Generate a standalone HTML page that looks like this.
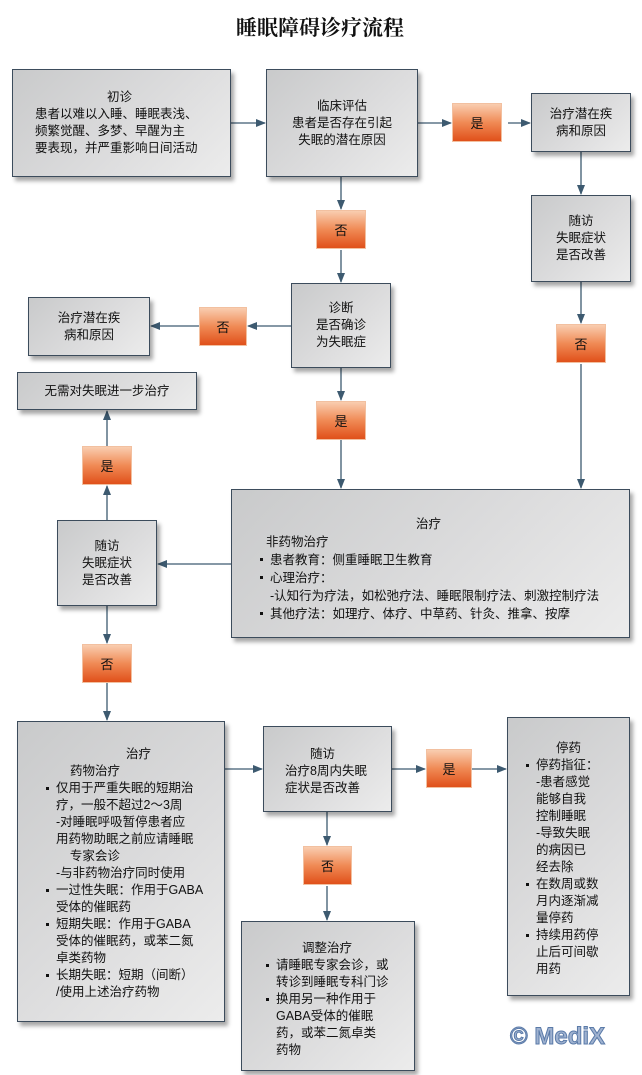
<!DOCTYPE html>
<html><head><meta charset="utf-8"><style>
body{margin:0;width:642px;height:1075px;background:#fff;position:relative;overflow:hidden;font-family:"Liberation Sans","Noto Sans CJK SC",sans-serif;font-size:12.5px;color:#111;}
.b{position:absolute;box-sizing:border-box;border:1px solid #3c4c5c;background:linear-gradient(135deg,#c9cacb 0%,#dcdcdd 55%,#ececec 100%);box-shadow:3px 4px 4px rgba(0,0,0,.35);line-height:17px;white-space:nowrap;}
.c{display:flex;align-items:center;justify-content:center;text-align:center;}
.o{position:absolute;width:50px;height:39px;background:linear-gradient(180deg,#f9cdb0 0%,#f08a55 50%,#e0501a 100%);border:1px solid #f2c0a0;box-sizing:border-box;display:flex;align-items:center;justify-content:center;font-size:13px;}
ul{margin:0;padding:0 0 0 14px;list-style:none;}
li{position:relative;}
li:before{content:"";position:absolute;left:-10px;top:7px;width:3px;height:3px;background:#111;}
svg{position:absolute;left:0;top:0;}
</style></head><body>
<div style="position:absolute;left:0;top:12px;width:640px;text-align:center;font-family:'Liberation Serif','Noto Serif CJK SC',serif;font-weight:bold;font-size:21px;">睡眠障碍诊疗流程</div>
<svg width="642" height="1075"><defs><marker id="a" markerWidth="10" markerHeight="8" refX="9" refY="4" orient="auto" markerUnits="userSpaceOnUse"><path d="M0,0 L10,4 L0,8 Z" fill="#3d5a70"/></marker></defs>
<g stroke="#3d5a70" stroke-width="1.3" fill="none" marker-end="url(#a)">
<line x1="231" y1="123" x2="265" y2="123"/><line x1="418" y1="123" x2="451" y2="123"/><line x1="508" y1="123" x2="530" y2="123"/>
<line x1="581" y1="152" x2="581" y2="194"/><line x1="581" y1="282" x2="581" y2="323"/><line x1="581" y1="364" x2="581" y2="488"/>
<line x1="341" y1="177" x2="341" y2="209"/><line x1="341" y1="250" x2="341" y2="282"/><line x1="341" y1="368" x2="341" y2="400"/><line x1="341" y1="440" x2="341" y2="488"/>
<line x1="291" y1="326" x2="248" y2="326"/><line x1="199" y1="326" x2="151" y2="326"/>
<line x1="231" y1="564" x2="158" y2="564"/>
<line x1="107" y1="520" x2="107" y2="486"/><line x1="107" y1="446" x2="107" y2="411"/>
<line x1="107" y1="606" x2="107" y2="643"/><line x1="107" y1="683" x2="107" y2="720"/>
<line x1="225" y1="769" x2="262" y2="769"/><line x1="392" y1="769" x2="425" y2="769"/><line x1="472" y1="769" x2="506" y2="769"/>
<line x1="327" y1="812" x2="327" y2="845"/><line x1="327" y1="886" x2="327" y2="920"/>
</g></svg>
<div class="b" style="left:12px;top:69px;width:219px;height:108px;padding:19px 0 0 22px;">
<div style="padding-left:72px">初诊</div>患者以难以入睡、睡眠表浅、<br>频繁觉醒、多梦、早醒为主<br>要表现，并严重影响日间活动</div>
<div class="b c" style="left:266px;top:69px;width:152px;height:108px;">临床评估<br>患者是否存在引起<br>失眠的潜在原因</div>
<div class="o" style="left:452px;top:103px;">是</div>
<div class="b c" style="left:531px;top:93px;width:100px;height:59px;">治疗潜在疾<br>病和原因</div>
<div class="b c" style="left:531px;top:195px;width:100px;height:87px;">随访<br>失眠症状<br>是否改善</div>
<div class="o" style="left:556px;top:324px;">否</div>
<div class="o" style="left:316px;top:210px;">否</div>
<div class="b c" style="left:291px;top:283px;width:100px;height:85px;">诊断<br>是否确诊<br>为失眠症</div>
<div class="o" style="left:199px;top:307px;width:48px;">否</div>
<div class="b c" style="left:28px;top:297px;width:122px;height:59px;">治疗潜在疾<br>病和原因</div>
<div class="b c" style="left:17px;top:372px;width:180px;height:38px;">无需对失眠进一步治疗</div>
<div class="o" style="left:82px;top:446px;">是</div>
<div class="o" style="left:316px;top:401px;">是</div>
<div class="b" style="left:231px;top:489px;width:399px;height:149px;padding:25px 0 0 24px;line-height:18px;">
<div style="padding-left:160px">治疗</div><div style="padding-left:10px">非药物治疗</div>
<ul><li>患者教育：侧重睡眠卫生教育</li><li>心理治疗：<br>-认知行为疗法，如松弛疗法、睡眠限制疗法、刺激控制疗法</li><li>其他疗法：如理疗、体疗、中草药、针灸、推拿、按摩</li></ul></div>
<div class="b c" style="left:57px;top:520px;width:100px;height:86px;">随访<br>失眠症状<br>是否改善</div>
<div class="o" style="left:82px;top:644px;">否</div>
<div class="b" style="left:17px;top:721px;width:208px;height:301px;padding:24px 4px 0 38px;">
<div style="padding-left:70px">治疗</div><div style="padding-left:14px">药物治疗</div>
<ul style="margin-left:-14px;padding-left:14px"><li>仅用于严重失眠的短期治<br>疗，一般不超过2～3周<br>-对睡眠呼吸暂停患者应<br>用药物助眠之前应请睡眠<br>&nbsp;&nbsp;&nbsp;&nbsp;专家会诊<br>-与非药物治疗同时使用</li><li>一过性失眠：作用于GABA<br>受体的催眠药</li><li>短期失眠：作用于GABA<br>受体的催眠药，或苯二氮<br>卓类药物</li><li>长期失眠：短期（间断）<br>/使用上述治疗药物</li></ul></div>
<div class="b" style="left:263px;top:726px;width:129px;height:86px;padding:19px 0 0 21px;"><div style="padding-left:25px">随访</div>治疗8周内失眠<br>症状是否改善</div>
<div class="o" style="left:426px;top:749px;width:46px;">是</div>
<div class="b" style="left:507px;top:717px;width:123px;height:279px;padding:22px 4px 0 28px;">
<div style="padding-left:20px">停药</div>
<ul style="margin-left:-4px;padding-left:4px"><li>停药指征：<br>-患者感觉<br>能够自我<br>控制睡眠<br>-导致失眠<br>的病因已<br>经去除</li><li>在数周或数<br>月内逐渐减<br>量停药</li><li>持续用药停<br>止后可间歇<br>用药</li></ul></div>
<div class="o" style="left:303px;top:846px;width:49px;">否</div>
<div class="b" style="left:241px;top:921px;width:174px;height:150px;padding:18px 6px 0 34px;">
<div style="padding-left:26px">调整治疗</div>
<ul style="margin-left:-14px;padding-left:14px"><li>请睡眠专家会诊，或<br>转诊到睡眠专科门诊</li><li>换用另一种作用于<br>GABA受体的催眠<br>药，或苯二氮卓类<br>药物</li></ul></div>
<div style="position:absolute;left:510px;top:1023px;font-weight:bold;font-size:24px;color:#9fb2d0;-webkit-text-stroke:1px #5a7aa8;">© MediX</div>
</body></html>
